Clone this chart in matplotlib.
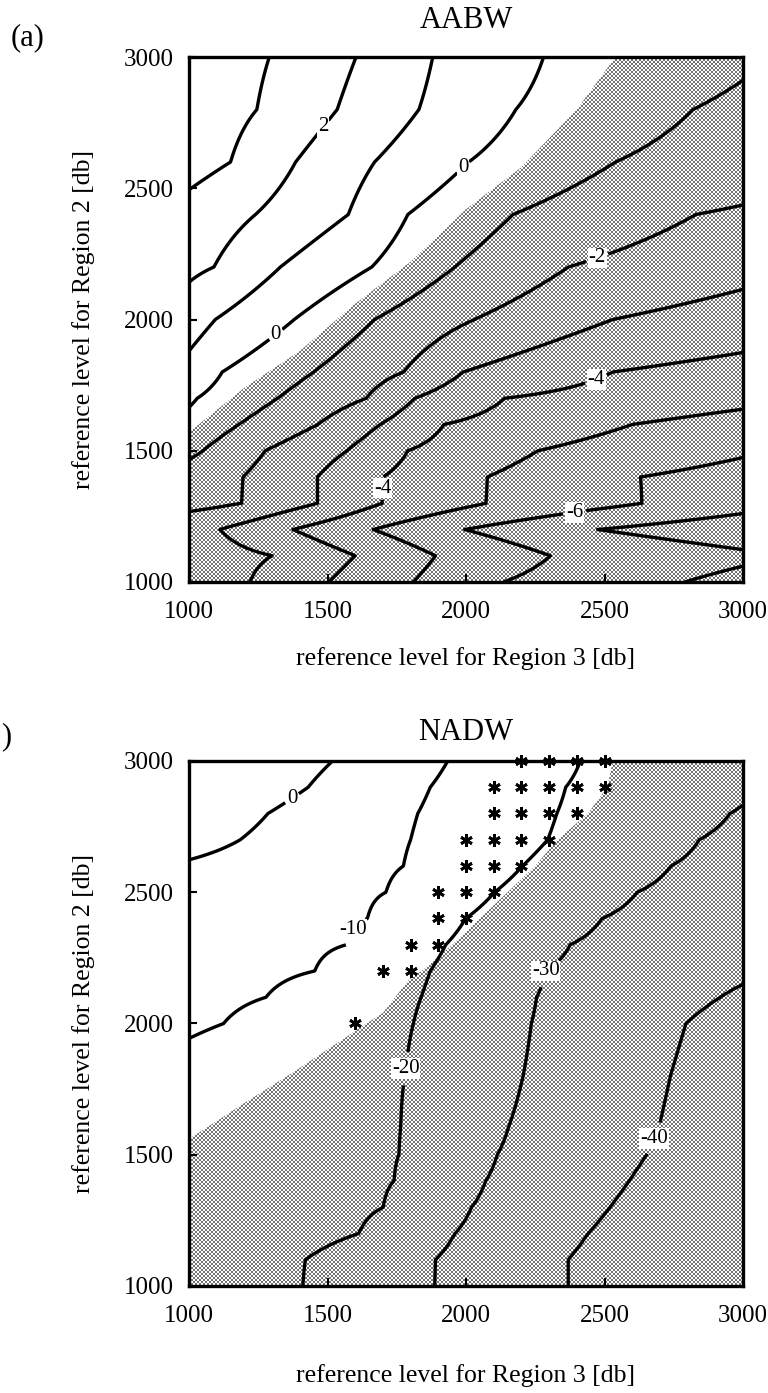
import numpy as np
import matplotlib
matplotlib.use('Agg')
import matplotlib.pyplot as plt
from matplotlib.patches import Polygon

plt.rcParams['font.family'] = ['Liberation Serif', 'DejaVu Serif']
plt.rcParams['contour.negative_linestyle'] = 'solid'

# ---------------- data: AABW ----------------
# rows of reference level for Region 2 (db)
aabw_rows = [1000, 1100, 1200, 1300, 1400, 1500, 1600, 1700, 1800, 2000, 2200, 2400, 2600, 2800, 3000]
aabw_levels = [4, 3, 2, 1, 0, -1, -2, -3, -4, -5, -6, -7, -8]
# x-position (Region 3 reference level) where each level is crossed, per row
aabw_cross_p4 = [-1500, -1400, -1700, -900, -700, -500, -300, -100, 100, 50, 250, 480, 750, 845, 890]
aabw_cross_p3 = [-1200, -1100, -1400, -600, -400, -200, 0, 200, 300, 450, 650, 880, 1150, 1245, 1290]
aabw_cross_p2 = [-900, -800, -1100, -300, -100, 100, 300, 500, 720, 905, 1090, 1240, 1385, 1535, 1603]
aabw_cross_p1 = [-600, -500, -800, 0, 200, 450, 650, 830, 940, 1095, 1330, 1575, 1670, 1830, 1880]
aabw_cross_0 = [-300, -200, -400, 350, 600, 830, 930, 1030, 1120, 1380, 1660, 1790, 2010, 2180, 2280]
aabw_cross_m1 = [100, 200, 0, 700, 850, 1050, 1180, 1320, 1450, 1670, 1960, 2170, 2540, 2820, 3110]
aabw_cross_m2 = [650, 700, 430, 1190, 1195, 1275, 1465, 1640, 1775, 2030, 2370, 2830, 3500, 3900, 4300]
aabw_cross_m3 = [1220, 1300, 1112, 1464, 1464, 1570, 1690, 1815, 1990, 2530, 3283, 4300, 4700, 5100, 5500]
aabw_cross_m4 = [1505, 1600, 1375, 1697, 1700, 1790, 1920, 2140, 2530, 3650, 4300, 4900, 5400, 5900, 6400]
aabw_cross_m5 = [1810, 1890, 1665, 2072, 2077, 2260, 2600, 3300, 3900, 4700, 5200, 5600, 6200, 6700, 7200]
aabw_cross_m6 = [2135, 2305, 1995, 2635, 2630, 3100, 3700, 4300, 4700, 5500, 6000, 6300, 6800, 7300, 7800]
aabw_cross_m7 = [2790, 3166, 2475, 3250, 3700, 3900, 4400, 4900, 5300, 6000, 6600, 7000, 7400, 7900, 8400]
aabw_cross_m8 = [3500, 3900, 3300, 4200, 4400, 4600, 5000, 5500, 5900, 6500, 7200, 7600, 8000, 8500, 9000]
aabw_plain_levels = [-7, -5, -3, -1, 1, 3]
aabw_label_levels = [-6, -4, -2, 0, 2]
aabw_label_pos = [(1452, 2762), (1964, 2609), (1301, 1960), (2466, 2260),
                  (2460, 1800), (1630, 1360), (2385, 1320)]
# shaded region boundary (shaded below / right of it)
aabw_shade_x = [1000, 1200, 1400, 1600, 1800, 2000, 2200, 2400, 2540, 3000]
aabw_shade_y = [1570, 1740, 1880, 2060, 2220, 2420, 2580, 2800, 3000, 3000]

# ---------------- data: NADW ----------------
nadw_rows = [1000, 1100, 1200, 1300, 1400, 1500, 1600, 1800, 2000, 2100, 2200, 2300, 2400, 2500, 2600, 2700, 2800, 2900, 3000]
nadw_levels = [10, 0, -10, -20, -30, -40, -50]
nadw_cross_p10 = [-2200, -2100, -2000, -1900, -1800, -1700, -1500, -1200, -800, -600, -400, -200, 0, 200, 400, 685, 785, 930, 1018]
nadw_cross_0 = [-1700, -1600, -1500, -1400, -1300, -1200, -1000, -700, -300, -100, 100, 300, 500, 700, 900, 1185, 1285, 1430, 1518]
nadw_cross_m10 = [710, 720, 910, 950, 960, 970, 975, 780, 1125, 1278, 1454, 1568, 1644, 1711, 1774, 1800, 1826, 1871, 1934]
nadw_cross_m20 = [1411, 1420, 1613, 1701, 1740, 1758, 1764, 1780, 1810, 1838, 1871, 1927, 1999, 2103, 2204, 2295, 2328, 2360, 2413]
nadw_cross_m30 = [1887, 1890, 1960, 2020, 2071, 2113, 2152, 2206, 2236, 2255, 2287, 2376, 2491, 2618, 2740, 2842, 2953, 3067, 3180]
nadw_cross_m40 = [2369, 2369, 2441, 2520, 2589, 2652, 2696, 2738, 2794, 2918, 3120, 3250, 3400, 3550, 3700, 3850, 4000, 4150, 4300]
nadw_cross_m50 = [2900, 2900, 2980, 3060, 3130, 3190, 3240, 3290, 3350, 3500, 3800, 4000, 4200, 4400, 4600, 4800, 5000, 5200, 5400]
nadw_label_levels = [-40, -30, -20, -10, 0]
nadw_label_pos = [(1340, 2909), (1560, 2380), (1740, 1833), (2250, 2252), (2650, 1577)]
nadw_shade_x = [1000, 1200, 1380, 1550, 1640, 1700, 1800, 1840, 1950, 2050, 2150, 2250, 2330, 2440, 2510, 2530, 3000]
nadw_shade_y = [1560, 1697, 1817, 1936, 2000, 2040, 2175, 2200, 2300, 2400, 2500, 2600, 2700, 2800, 2900, 3000, 3000]
# grid points marked with asterisks
star_x = [2200, 2300, 2400, 2500,
          2100, 2200, 2300, 2400, 2500,
          2100, 2200, 2300, 2400,
          2000, 2100, 2200, 2300,
          2000, 2100, 2200,
          1900, 2000, 2100,
          1900, 2000,
          1800, 1900,
          1700, 1800,
          1600]
star_y = [3000, 3000, 3000, 3000,
          2900, 2900, 2900, 2900, 2900,
          2800, 2800, 2800, 2800,
          2700, 2700, 2700, 2700,
          2600, 2600, 2600,
          2500, 2500, 2500,
          2400, 2400,
          2300, 2300,
          2200, 2200,
          2000]

ticks = [1000, 1500, 2000, 2500, 3000]
tick_labels = ['1000', '1500', '2000', '2500', '3000']

x_fine = np.linspace(1000, 3000, 801)


def build_field(rows, levels, cross):
    cross = np.asarray(cross, float)
    lev = np.asarray(levels, float)
    return np.array([np.interp(x_fine, cross[:, j], lev) for j in range(len(rows))])


W, H = 768, 1393
AXW, AXH = 554, 525
fig = plt.figure(figsize=(W / 100, H / 100), dpi=100)
ax1 = fig.add_axes([189 / W, 1 - 582 / H, AXW / W, AXH / H])
ax2 = fig.add_axes([189 / W, 1 - 1286 / H, AXW / W, AXH / H])
LW = 2.4

# halftone-like dot texture used for the shaded area
yy, xx = np.mgrid[0:AXH, 0:AXW]
dots = (((xx // 2) + (yy // 2)) % 2 == 0)
texture = np.where(dots, 0.45, 1.0)


def shade(ax, sx, sy):
    verts = list(zip(sx, sy)) + [(3000, 1000), (1000, 1000)]
    poly = Polygon(verts, closed=True, facecolor='none', edgecolor='none',
                   transform=ax.transData)
    ax.add_patch(poly)
    im = ax.imshow(texture, extent=(1000, 3000, 1000, 3000), origin='upper',
                   cmap='gray', vmin=0, vmax=1, interpolation='nearest',
                   aspect='auto', zorder=0)
    im.set_clip_path(poly)


def style(ax, title, title_off, xlab_off):
    ax.set_xlim(1000, 3000)
    ax.set_ylim(1000, 3000)
    ax.set_xticks(ticks)
    ax.set_xticklabels(tick_labels)
    ax.set_yticks(ticks)
    ax.set_yticklabels(tick_labels)
    ax.tick_params(axis='both', direction='in', length=6, width=1.5, labelsize=18)
    ax.tick_params(axis='x', pad=14)
    ax.tick_params(axis='y', pad=11)
    for s in ax.spines.values():
        s.set_linewidth(2.4)
        s.set_zorder(5)
    ax.set_title(title, fontsize=22, y=1 + title_off, va='center', pad=0)
    ax.set_xlabel('reference level for Region 3 [db]', fontsize=18.5, va='center')
    ax.xaxis.set_label_coords(0.5, -xlab_off)
    ax.set_ylabel('reference level for Region 2 [db]', fontsize=18.5, va='center')
    ax.yaxis.set_label_coords(-0.19, 0.5)


def contour_with_labels(ax, Z, rows, plain_levels, label_levels, pos):
    if plain_levels:
        ax.contour(x_fine, rows, Z, levels=plain_levels, colors='k',
                   linewidths=LW, linestyles='solid', zorder=3)
    cs = ax.contour(x_fine, rows, Z, levels=label_levels, colors='k',
                    linewidths=LW, linestyles='solid', zorder=3)
    texts = ax.clabel(cs, manual=pos, inline=True,
                      fmt={l: str(int(l)) for l in label_levels}, fontsize=15,
                      inline_spacing=3)
    for t in texts:
        t.set_rotation(0)
        t.set_bbox(dict(facecolor='white', edgecolor='none', pad=0.6))
        t.set_zorder(6)


# ---- AABW ----
aabw_cross = [aabw_cross_p4, aabw_cross_p3, aabw_cross_p2, aabw_cross_p1, aabw_cross_0,
              aabw_cross_m1, aabw_cross_m2, aabw_cross_m3, aabw_cross_m4, aabw_cross_m5,
              aabw_cross_m6, aabw_cross_m7, aabw_cross_m8]
Z1 = build_field(aabw_rows, aabw_levels, aabw_cross)
shade(ax1, aabw_shade_x, aabw_shade_y)
contour_with_labels(ax1, Z1, aabw_rows, aabw_plain_levels, aabw_label_levels, aabw_label_pos)
style(ax1, 'AABW', 36 / 524, 76 / 524)

# ---- NADW ----
nadw_cross = [nadw_cross_p10, nadw_cross_0, nadw_cross_m10, nadw_cross_m20,
              nadw_cross_m30, nadw_cross_m40, nadw_cross_m50]
Z2 = build_field(nadw_rows, nadw_levels, nadw_cross)
shade(ax2, nadw_shade_x, nadw_shade_y)
contour_with_labels(ax2, Z2, nadw_rows, [], nadw_label_levels, nadw_label_pos)
ax2.plot(star_x, star_y, linestyle='none', marker=(6, 2, 0), markersize=9,
         markeredgewidth=2.0, color='k', clip_on=False, zorder=7)
style(ax2, 'NADW', 28 / 525, 90 / 525)

fig.text(28 / W, 1 - 38 / H, '(a)', fontsize=22, ha='center', va='center')
fig.text(6 / W, 1 - 737 / H, ')', fontsize=22, ha='center', va='center')

fig.savefig('out.png', dpi=100)
